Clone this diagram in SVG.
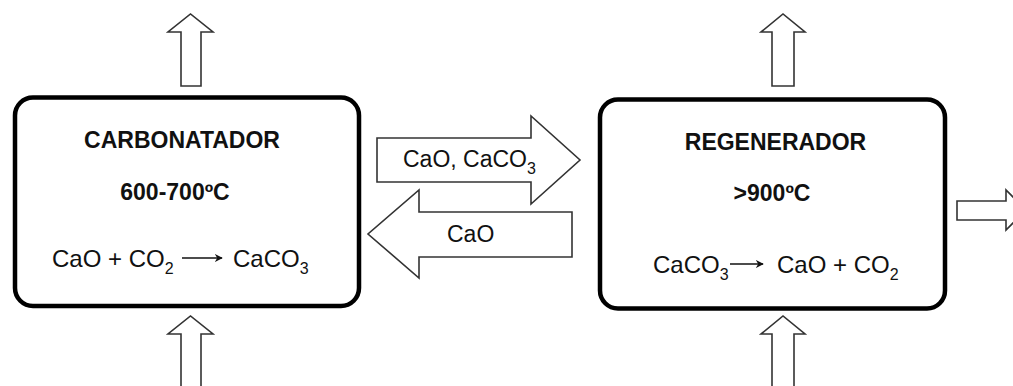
<svg xmlns="http://www.w3.org/2000/svg" width="1013" height="386" viewBox="0 0 1013 386">
  <defs>
    <style>
      .box { fill: #fff; stroke: #000; stroke-width: 4.5; }
      .fat { fill: #fff; stroke: #333; stroke-width: 1.6; stroke-linejoin: miter; }
      .title { font-family: "Liberation Sans", Arial, sans-serif; font-weight: bold; font-size: 23px; fill: #111; text-anchor: middle; }
      .txt { font-family: "Liberation Sans", Arial, sans-serif; font-size: 24px; fill: #111; }
      .mid { font-size: 23px; }
      .sub { font-size: 16px; }
      .rx { stroke: #111; stroke-width: 1.6; fill: none; }
    </style>
    <marker id="ah" viewBox="0 0 10 10" refX="9" refY="5" markerWidth="8" markerHeight="8" markerUnits="userSpaceOnUse" orient="auto">
      <path d="M0,0 L10,5 L0,10 L3,5 Z" fill="#111"/>
    </marker>
  </defs>
  <rect width="1013" height="386" fill="#fff"/>

  <g id="connectors">
    <polygon class="fat" points="181,86 181,32 168,32 190.5,14 213,32 201,32 201,86"/>
    <polygon class="fat" points="181,392 181,334 168,334 190.5,316 213,334 201,334 201,392"/>
    <polygon class="fat" points="772,86 772,32 761,32 783,14 805,32 794,32 794,86"/>
    <polygon class="fat" points="772,392 772,334 761,334 783,316 805,334 794,334 794,392"/>
    <polygon class="fat" points="377,138 531,138 531,116 580,160 531,204 531,182 377,182"/>
    <polygon class="fat" points="572,212 419,212 419,190 368,234 419,278 419,257 572,257"/>
    <polygon class="fat" points="957,201 1006,201 1006,190 1026,210 1006,230 1006,220 957,220"/>
    <text class="txt mid" x="403" y="167">CaO, CaCO<tspan class="sub" dy="7">3</tspan></text>
    <text class="txt mid" x="447" y="242">CaO</text>
  </g>

  <g id="carbonatador">
    <rect class="box" x="15" y="97.5" width="344" height="208.5" rx="18"/>
    <text class="title" x="182" y="148">CARBONATADOR</text>
    <text class="title" x="175" y="200">600-700ºC</text>
    <text class="txt" x="52" y="267">CaO + CO<tspan class="sub" dy="7">2</tspan></text>
    <line class="rx" x1="182" y1="258" x2="222" y2="258" marker-end="url(#ah)"/>
    <text class="txt" x="233" y="267">CaCO<tspan class="sub" dy="7">3</tspan></text>
  </g>

  <g id="regenerador">
    <rect class="box" x="600" y="99.5" width="345" height="209" rx="18"/>
    <text class="title" x="775.5" y="150">REGENERADOR</text>
    <text class="title" x="772" y="201">&gt;900ºC</text>
    <text class="txt" x="653" y="273">CaCO<tspan class="sub" dy="7">3</tspan></text>
    <line class="rx" x1="730" y1="264" x2="763" y2="264" marker-end="url(#ah)"/>
    <text class="txt" x="777" y="273">CaO + CO<tspan class="sub" dy="7">2</tspan></text>
  </g>
</svg>
